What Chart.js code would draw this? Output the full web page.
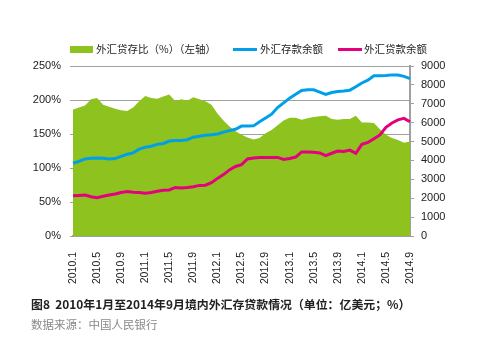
<!DOCTYPE html>
<html lang="zh">
<head>
  <meta charset="UTF-8">
  <title>境内外汇存贷款情况</title>
  <script src="https://cdn.jsdelivr.net/npm/chart.js"></script>
  <style>
    body {
      margin: 0;
      padding: 0;
      background: #ffffff;
      font-family: 'Noto Sans CJK SC', sans-serif;
    }
    .wrap {
      position: relative;
      width: 494px;
      height: 352px;
    }
    .wrap canvas {
      position: absolute;
      left: 0;
      top: 0;
    }
    .lg {
      position: absolute;
      font-size: 10.5px;
      color: #222;
      line-height: 14px;
      top: 42px;
      white-space: nowrap;
    }
    .sw {
      position: absolute;
    }
    .caption {
      position: absolute;
      left: 31px;
      top: 295px;
      font-size: 11.9px;
      font-weight: bold;
      color: #222;
      white-space: nowrap;
    }
    .source {
      position: absolute;
      left: 31px;
      top: 316px;
      font-size: 11.5px;
      color: #888;
      white-space: nowrap;
    }
  </style>
</head>
<body>

<div class="wrap">
  <canvas id="fxChart" width="494" height="352"></canvas>

  <!-- legend -->
  <div class="sw" style="left:70px; top:46px; width:23px; height:7px; background:#8dc21f;"></div>
  <div class="lg" style="left:96px;">外汇贷存比（%）（左轴）</div>
  <div class="sw" style="left:233px; top:48px; width:24px; height:3px; background:#00a0e9;"></div>
  <div class="lg" style="left:260px;">外汇存款余额</div>
  <div class="sw" style="left:338px; top:48px; width:24px; height:3px; background:#e4007f;"></div>
  <div class="lg" style="left:364px;">外汇贷款余额</div>

  <div class="caption">图8&nbsp;&nbsp;2010年1月至2014年9月境内外汇存贷款情况（单位：亿美元；%）</div>
  <div class="source">数据来源：中国人民银行</div>
</div>

<script>
  // months 2010.1 .. 2014.9
  const months = [];
  for (let y = 2010; y <= 2014; y++) {
    for (let m = 1; m <= 12; m++) {
      if (y === 2014 && m > 9) break;
      months.push(y + '.' + m);
    }
  }

  // 外汇贷存比 (%), left axis
  const loanDepositRatio = [
    186, 189, 192, 201, 203, 193, 190, 187, 185, 184, 189, 198,
    206, 203, 202, 205, 208, 198, 201, 199, 204, 201, 198, 193,
    180, 170, 161, 154, 149, 145, 142, 144, 151, 156, 163, 170,
    174, 174, 171, 173, 175, 176, 177, 172, 171, 172, 172, 177,
    167, 167, 166, 157, 149, 144, 141, 137, 139
  ];

  // 外汇存款余额 (亿美元), right axis
  const fxDeposits = [
    3850, 3950, 4080, 4120, 4130, 4120, 4080, 4100, 4220, 4330, 4400, 4600,
    4700, 4750, 4850, 4900, 5030, 5050, 5060, 5100, 5230, 5280, 5330, 5360,
    5400, 5500, 5580, 5650, 5820, 5820, 5830, 6050, 6250, 6450, 6800, 7050,
    7300, 7500, 7700, 7740, 7740, 7620, 7500, 7600, 7650, 7680, 7720, 7900,
    8100, 8250, 8480, 8480, 8500, 8530, 8520, 8450, 8330
  ];

  // 外汇贷款余额 (亿美元), right axis
  const fxLoans = [
    2130, 2150, 2170, 2080, 2030, 2100, 2170, 2220, 2300, 2350, 2320, 2300,
    2260, 2300, 2370, 2420, 2440, 2570, 2540, 2570, 2610, 2680, 2690, 2820,
    3050, 3250, 3500, 3680, 3780, 4080, 4130, 4160, 4160, 4160, 4160, 4050,
    4100, 4180, 4450, 4450, 4430, 4400, 4250, 4380, 4500, 4480, 4550, 4380,
    4850, 4950, 5150, 5350, 5750, 5980, 6150, 6230, 6050
  ];

  const tickFont = { family: "'Liberation Sans', Arial, sans-serif", size: 11 };
  const axisGray = '#a0a0a0';

  const ctx = document.getElementById('fxChart').getContext('2d');

  new Chart(ctx, {
    type: 'line',
    data: {
      labels: months,
      datasets: [
        {
          label: '外汇贷存比（%）（左轴）',
          data: loanDepositRatio,
          yAxisID: 'yL',
          fill: 'origin',
          backgroundColor: '#8dc21f',
          borderWidth: 0,
          pointRadius: 0,
          tension: 0,
          order: 3
        },
        {
          label: '外汇存款余额',
          data: fxDeposits,
          yAxisID: 'yR',
          borderColor: '#00a0e9',
          borderWidth: 3,
          pointRadius: 0,
          fill: false,
          tension: 0,
          order: 2
        },
        {
          label: '外汇贷款余额',
          data: fxLoans,
          yAxisID: 'yR',
          borderColor: '#e4007f',
          borderWidth: 3,
          pointRadius: 0,
          fill: false,
          tension: 0,
          order: 1
        }
      ]
    },
    options: {
      responsive: false,
      animation: false,
      layout: {
        padding: { top: 66, left: 0, right: 0, bottom: 66 }
      },
      plugins: {
        legend: { display: false },
        tooltip: { enabled: false }
      },
      scales: {
        x: {
          offset: false,
          grid: { display: false },
          border: { display: true, color: axisGray, width: 2 },
          ticks: {
            autoSkip: false,
            minRotation: 90,
            maxRotation: 90,
            padding: 8,
            color: '#222',
            font: { family: tickFont.family, size: 10.5 },
            callback: function (value, index) {
              return index % 4 === 0 ? months[index] : '';
            }
          },
          afterFit: function (scale) { scale.height = 50; }
        },
        yL: {
          position: 'left',
          min: 0,
          max: 250,
          grid: {
            color: axisGray,
            lineWidth: 1,
            drawTicks: true,
            tickLength: 3
          },
          border: { display: false },
          ticks: {
            stepSize: 50,
            padding: 9,
            color: '#222',
            font: tickFont,
            callback: function (v) { return v + '%'; }
          },
          afterFit: function (scale) { scale.width = 73; }
        },
        yR: {
          position: 'right',
          min: 0,
          max: 9000,
          grid: {
            drawOnChartArea: false,
            drawTicks: true,
            tickLength: 4,
            color: axisGray
          },
          border: { display: true, color: axisGray, width: 2 },
          ticks: {
            stepSize: 1000,
            padding: 7,
            color: '#222',
            font: tickFont,
            callback: function (v) { return String(v); }
          },
          afterFit: function (scale) { scale.width = 84; }
        }
      }
    }
  });
</script>

</body>
</html>
